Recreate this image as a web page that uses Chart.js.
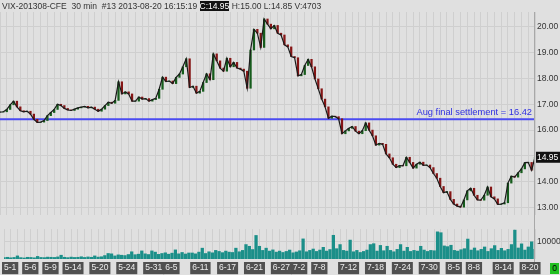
<!DOCTYPE html>
<html>
<head>
<meta charset="utf-8">
<script src="https://cdn.jsdelivr.net/npm/chart.js@4.4.0/dist/chart.umd.min.js"></script>
<style>
  html, body { margin: 0; padding: 0; background: #e0e0e0; }
  #wrap { position: relative; width: 560px; height: 275px; overflow: hidden; font-family: "Liberation Sans", Arial, sans-serif; }
  #head { position: absolute; left: 2px; top: 0; font-size: 8.5px; line-height: 12px; color: #333; white-space: pre; }
  #head .inv { background: #111; color: #fff; }
  #priceChart { position: absolute; left: 0; top: 0; }
  #volChart { position: absolute; left: 0; top: 222px; }
  #axisLine { position: absolute; left: 534px; top: 12px; width: 1px; height: 250px; background: #a8a8a8; }
  #zero { position: absolute; left: 550px; top: 263px; width: 9px; height: 11px; background: #22c022; color: #000; font-size: 8.5px; line-height: 11px; text-align: center; }
</style>
</head>
<body>
<div id="wrap">
  <canvas id="priceChart" width="560" height="222"></canvas>
  <canvas id="volChart" width="560" height="53"></canvas>
  <div id="axisLine"></div>
  <div id="head">VIX-201308-CFE  30 min  #13 2013-08-20 16:15:19 <span class="inv">C:14.95</span> H:15.00 L:14.85 V:4703</div>
  <div id="zero">0</div>
</div>
<script>
// trading-day labels on the x axis and the day index where each one sits
const dayLabels = ['5-1', '5-6', '5-9', '5-14', '5-20', '5-24', '5-31', '6-5', '6-11', '6-17', '6-21',
  '6-27', '7-2', '7-8', '7-12', '7-18', '7-24', '7-30', '8-5', '8-8', '8-14', '8-20'];
const labelDays = [0, 3, 6, 9, 13, 17, 21, 24, 28, 32, 36, 40, 43, 46, 50, 54, 58, 62, 66, 69, 73, 77];

// closes, sampled every half trading day
const closes = [
  16.70, 16.71, 16.80, 16.98, 17.12, 16.90, 16.75, 16.71, 16.73, 16.62,
  16.42, 16.30, 16.31, 16.37, 16.56, 16.68, 16.80, 17.00, 16.95, 16.84,
  16.78, 16.76, 16.81, 16.86, 16.89, 16.92, 16.86, 16.89, 16.81, 16.73,
  16.81, 16.95, 17.08, 17.04, 17.15, 17.87, 17.40, 17.48, 17.40, 17.12,
  17.12, 17.28, 17.20, 17.22, 17.12, 17.18, 17.23, 17.58, 18.05, 17.88,
  17.90, 17.80, 18.04, 18.17, 18.45, 18.76, 17.65, 17.70, 17.43, 17.50,
  17.84, 18.18, 17.95, 18.95, 18.68, 18.40, 18.28, 18.78, 18.45, 18.62,
  18.40, 18.36, 18.28, 17.62, 19.10, 19.90, 19.75, 19.20, 20.30, 20.10,
  19.92, 20.05, 19.75, 19.68, 19.30, 19.22, 18.85, 18.80, 18.10, 18.15,
  18.50, 18.74, 18.45, 17.98, 17.60, 17.20, 16.90, 16.46, 16.54, 16.52,
  16.44, 15.86, 15.97, 16.07, 16.14, 15.96, 15.86, 15.98, 16.28, 16.00,
  15.78, 15.42, 15.49, 15.45, 15.08, 14.93, 14.68, 14.55, 14.63, 14.62,
  14.95, 14.75, 14.53, 14.68, 14.76, 14.64, 14.65, 14.55, 14.32, 14.14,
  13.82, 13.58, 13.62, 13.32, 13.14, 13.06, 13.02, 13.30, 13.65, 13.75,
  13.48, 13.30, 13.29, 13.48, 13.80, 13.42, 13.34, 13.13, 13.14, 13.19,
  13.95, 14.22, 14.18, 14.35, 14.50, 14.74, 14.75, 14.45, 14.95
];

// volume in thousands of contracts, same sampling
const volumes = [
  0.8, 1.0, 0.7, 0.9, 1.8, 0.8, 0.6, 1.0, 0.9, 0.7,
  1.5, 0.9, 0.8, 1.1, 1.0, 0.9, 1.2, 2.2, 1.0, 0.8,
  1.1, 0.9, 1.0, 1.3, 0.9, 1.2, 1.0, 1.8, 1.1, 1.3,
  2.0, 3.2, 3.0, 1.8, 2.4, 2.2, 2.0, 2.6, 4.2, 2.5,
  2.8, 4.7, 3.0, 2.6, 4.7, 4.0, 2.7, 3.2, 3.6, 2.8,
  3.4, 5.3, 3.0, 3.8, 2.9, 3.5, 3.5, 3.0, 4.0, 6.3,
  3.2, 4.2, 3.6, 5.0, 4.4, 3.7, 4.6, 4.0, 3.8, 6.3,
  4.2, 5.0, 8.4, 7.4, 5.5, 13.7, 7.4, 5.0, 6.3, 4.6,
  5.3, 4.0, 4.6, 3.8, 4.4, 5.2, 3.6, 4.1, 4.8, 11.7,
  4.2, 5.0, 5.8, 4.4, 5.2, 6.8, 4.6, 5.5, 13.8, 6.0,
  8.4, 5.0, 4.6, 11.0, 4.2, 5.0, 3.8, 4.4, 5.2, 8.4,
  8.9, 4.6, 7.9, 4.8, 7.4, 5.0, 4.2, 5.6, 8.4, 4.6,
  6.8, 4.4, 5.0, 4.6, 7.4, 5.2, 4.4, 5.0, 4.8, 15.8,
  15.3, 7.6, 7.2, 8.0, 5.0, 4.6, 5.4, 6.0, 11.6, 5.2,
  6.4, 4.8, 5.6, 7.0, 4.4, 6.0, 7.8, 5.0, 6.2, 4.8,
  5.6, 8.4, 16.8, 6.4, 8.8, 5.2, 7.0, 10.0, 5.6
];

const priceTicks = [13, 14, 15, 16, 17, 18, 19, 20];
const volumeTicks = [10000];
const settlement = 16.42;
const lastPrice = 14.95;

const step = 0.5;       // half a trading day per sample
const lastDay = 79;
const dayTicks = [];
for (let d = 0; d <= lastDay; d++) dayTicks.push(d);

const fontFamily = '"Liberation Sans", Arial, sans-serif';
const gridColor = '#cfcfcf';
const upColor = '#165c1c';
const downColor = '#851515';

const linePoints = closes.map((c, i) => ({ x: i * step, y: c }));
const candleBodies = closes.map((c, i) => ({ x: i * step, y: [i ? closes[i - 1] : c, c] }));
const candleColors = closes.map((c, i) => (i && c < closes[i - 1]) ? downColor : upColor);

const settlementLabel = {
  id: 'settlementLabel',
  afterDatasetsDraw(chart) {
    const { ctx, scales, chartArea } = chart;
    const y = scales.y.getPixelForValue(settlement);
    ctx.save();
    ctx.fillStyle = '#2f2fe0';
    ctx.font = '9.3px ' + fontFamily;
    ctx.textAlign = 'right';
    ctx.textBaseline = 'alphabetic';
    ctx.fillText('Aug final settlement = ' + settlement.toFixed(2), chartArea.right - 3, y - 4);
    ctx.restore();
  },
  afterDraw(chart) {
    const { ctx, scales, chartArea } = chart;
    const y = scales.y.getPixelForValue(lastPrice);
    ctx.save();
    ctx.fillStyle = '#111';
    ctx.fillRect(chartArea.right + 1, y - 5.5, 25, 11);
    ctx.fillStyle = '#fff';
    ctx.font = '8.5px ' + fontFamily;
    ctx.textBaseline = 'middle';
    ctx.fillText(lastPrice.toFixed(2), chartArea.right + 2, y + 0.5);
    ctx.restore();
  }
};

new Chart(document.getElementById('priceChart'), {
  type: 'line',
  data: {
    datasets: [
      {
        type: 'line',
        data: linePoints,
        borderColor: '#1a1a1a',
        borderWidth: 1.2,
        pointRadius: 0,
        tension: 0,
        order: 0
      },
      {
        type: 'bar',
        data: candleBodies,
        backgroundColor: candleColors,
        barThickness: 1.6,
        order: 1
      },
      {
        type: 'line',
        data: [{ x: 0, y: settlement }, { x: lastDay, y: settlement }],
        borderColor: '#4b4bf2',
        borderWidth: 2,
        pointRadius: 0,
        order: 2
      }
    ]
  },
  options: {
    responsive: false,
    animation: false,
    layout: { padding: { top: 12, bottom: 3, left: 0, right: 0 } },
    plugins: { legend: { display: false }, tooltip: { enabled: false } },
    scales: {
      x: {
        type: 'linear',
        min: 0,
        max: lastDay,
        offset: false,
        afterBuildTicks: s => { s.ticks = dayTicks.map(v => ({ value: v })); },
        afterFit: s => { s.height = 0; },
        grid: { color: gridColor, drawTicks: false, offset: false },
        border: { display: false },
        ticks: { display: false }
      },
      y: {
        position: 'right',
        min: 12.72,
        max: 20.57,
        beginAtZero: false,
        afterBuildTicks: s => { s.ticks = priceTicks.map(v => ({ value: v })); },
        afterFit: s => { s.width = 25; },
        grid: { color: gridColor, drawTicks: false },
        border: { display: false },
        ticks: {
          color: '#333',
          padding: 2,
          font: { size: 8.5, family: fontFamily },
          callback: v => v.toFixed(2)
        }
      }
    }
  },
  plugins: [settlementLabel]
});

new Chart(document.getElementById('volChart'), {
  type: 'bar',
  data: {
    datasets: [{
      data: volumes.map((v, i) => ({ x: i * step, y: v * 1000 })),
      backgroundColor: '#1b8f89',
      barThickness: 2.6
    }]
  },
  options: {
    responsive: false,
    animation: false,
    layout: { padding: { top: 4, bottom: 0, left: 0, right: 0 } },
    plugins: { legend: { display: false }, tooltip: { enabled: false } },
    scales: {
      x: {
        type: 'linear',
        min: 0,
        max: lastDay,
        offset: false,
        afterBuildTicks: s => { s.ticks = dayTicks.map(v => ({ value: v })); },
        afterFit: s => { s.height = 16; },
        grid: { color: gridColor, drawTicks: false, offset: false },
        border: { display: false },
        ticks: {
          autoSkip: false,
          maxRotation: 0,
          align: 'start',
          padding: 4,
          color: '#eeeeee',
          font: { size: 8.5, family: fontFamily },
          showLabelBackdrop: true,
          backdropPadding: { x: 2, y: 1 },
          backdropColor: ctx => labelDays.includes(ctx.tick.value) ? '#505050' : 'rgba(0,0,0,0)',
          callback: v => {
            const k = labelDays.indexOf(v);
            return k >= 0 ? dayLabels[k] : '';
          }
        }
      },
      y: {
        position: 'right',
        min: 0,
        max: 17400,
        beginAtZero: true,
        afterBuildTicks: s => { s.ticks = volumeTicks.map(v => ({ value: v })); },
        afterFit: s => { s.width = 25; },
        grid: { color: gridColor, drawTicks: false },
        border: { display: false },
        ticks: {
          color: '#333',
          padding: 2,
          font: { size: 8.5, family: fontFamily },
          callback: v => String(v)
        }
      }
    }
  }
});
</script>
</body>
</html>
